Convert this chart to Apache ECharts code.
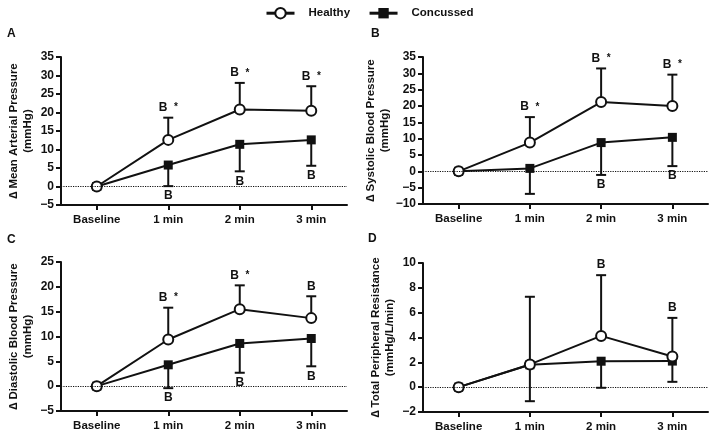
<!DOCTYPE html>
<html><head><meta charset="utf-8">
<script src="https://cdn.jsdelivr.net/npm/echarts@6/dist/echarts.min.js"></script>
<style>html,body{margin:0;padding:0;background:#fff}#c{width:709px;height:436px}</style>
</head><body><div id="c"></div>
<script>
const categories = ['Baseline', '1 min', '2 min', '3 min'];

// Panel A: Mean Arterial Pressure
const healthyMAP = [0, 12.6, 20.8, 20.5];
const healthyMAPErr = [null, 18.6, 28.0, 27.1];
const concMAP = [0, 5.8, 11.4, 12.6];
const concMAPErr = [null, 0.1, 4.1, 5.6];
const healthyMAPAnn = ['', 'B *', 'B *', 'B *'];
const concMAPAnn = ['', 'B', 'B', 'B'];

// Panel B: Systolic Blood Pressure
const healthySBP = [0, 8.8, 21.2, 20.0];
const healthySBPErr = [null, 16.6, 31.5, 29.6];
const concSBP = [0, 0.9, 8.8, 10.4];
const concSBPErr = [null, -6.9, -1.1, 1.6];
const healthySBPAnn = ['', 'B *', 'B *', 'B *'];
const concSBPAnn = ['', '', 'B', 'B'];

// Panel C: Diastolic Blood Pressure
const healthyDBP = [0, 9.4, 15.5, 13.7];
const healthyDBPErr = [null, 15.8, 20.3, 18.1];
const concDBP = [0, 4.3, 8.6, 9.6];
const concDBPErr = [null, -0.4, 2.7, 4.0];
const healthyDBPAnn = ['', 'B *', 'B *', 'B'];
const concDBPAnn = ['', 'B', 'B', 'B'];

// Panel D: Total Peripheral Resistance
const healthyTPR = [0, 1.83, 4.13, 2.47];
const healthyTPRErr = [null, 7.28, 9.02, 5.58];
const concTPR = [0, 1.8, 2.09, 2.1];
const concTPRErr = [null, -1.13, -0.05, 0.43];
const healthyTPRAnn = ['', '', 'B', 'B'];
const concTPRAnn = ['', '', '', ''];

const panels = [
  {letter:'A', grid:{left:61, top:57, width:286, height:148}, min:-5, max:35, interval:5,
   name:'\u2206 Mean Arterial Pressure\n(mmHg)', h:healthyMAP, hE:healthyMAPErr, c:concMAP, cE:concMAPErr, hA:healthyMAPAnn, cA:concMAPAnn, lx:7, ly:28},
  {letter:'B', grid:{left:423, top:57, width:285, height:147}, min:-10, max:35, interval:5,
   name:'\u2206 Systolic Blood Pressure\n(mmHg)', h:healthySBP, hE:healthySBPErr, c:concSBP, cE:concSBPErr, hA:healthySBPAnn, cA:concSBPAnn, lx:371, ly:28},
  {letter:'C', grid:{left:61, top:262, width:286, height:149}, min:-5, max:25, interval:5,
   name:'\u2206 Diastolic Blood Pressure\n(mmHg)', h:healthyDBP, hE:healthyDBPErr, c:concDBP, cE:concDBPErr, hA:healthyDBPAnn, cA:concDBPAnn, lx:7, ly:234},
  {letter:'D', grid:{left:423, top:263, width:285, height:149}, min:-2, max:10, interval:2,
   name:'\u2206 Total Peripheral Resistance\n(mmHg/L/min)', h:healthyTPR, hE:healthyTPRErr, c:concTPR, cE:concTPRErr, hA:healthyTPRAnn, cA:concTPRAnn, lx:368, ly:233}
];

const FONT = 'Liberation Sans, Arial, sans-serif';
const INK = '#111';

const grids = [], xAxes = [], yAxes = [], series = [], graphics = [];

function errRender(params, api) {
  const p0 = api.coord([api.value(0), api.value(1)]);
  const p1 = api.coord([api.value(0), api.value(2)]);
  const hw = 5;
  return {type:'group', children:[
    {type:'line', shape:{x1:p0[0], y1:p0[1], x2:p1[0], y2:p1[1]}, style:{stroke:INK, lineWidth:2}},
    {type:'line', shape:{x1:p1[0]-hw, y1:p1[1], x2:p1[0]+hw, y2:p1[1]}, style:{stroke:INK, lineWidth:2}}
  ]};
}

function annText(t) {
  return t.replace(' *', '  {s|*}').replace(/^B/, '{b|B}');
}

panels.forEach((p, i) => {
  grids.push(Object.assign({containLabel:false}, p.grid));
  xAxes.push({type:'category', gridIndex:i, data:categories, boundaryGap:true,
    axisLine:{show:true, onZero:false, lineStyle:{color:INK, width:2}},
    axisTick:{show:true, alignWithLabel:true, length:5, lineStyle:{color:INK, width:2}},
    axisLabel:{color:INK, fontFamily:FONT, fontWeight:'bold', fontSize:11.5, margin:9}});
  yAxes.push({type:'value', gridIndex:i, min:p.min, max:p.max, interval:p.interval,
    name:p.name, nameLocation:'middle', nameRotate:90, nameGap:26,
    nameTextStyle:{color:INK, fontFamily:FONT, fontWeight:'bold', fontSize:11.5, lineHeight:14},
    axisLine:{show:true, lineStyle:{color:INK, width:2}},
    axisTick:{show:true, length:5, lineStyle:{color:INK, width:2}},
    splitLine:{show:false},
    axisLabel:{color:INK, fontFamily:FONT, fontWeight:'bold', fontSize:12, margin:7,
      formatter: v => String(v).replace('-', '\u2212')}});

  const hErrData = [], cErrData = [], hAnnData = [], cAnnData = [];
  for (let k = 0; k < categories.length; k++) {
    if (p.hE[k] !== null) hErrData.push([k, p.h[k], p.hE[k]]);
    if (p.cE[k] !== null) cErrData.push([k, p.c[k], p.cE[k]]);
    if (p.hA[k]) hAnnData.push({value:[k, p.hE[k]], label:{formatter:annText(p.hA[k])}});
    if (p.cA[k]) cAnnData.push({value:[k, p.cE[k]], label:{formatter:annText(p.cA[k])}});
  }
  series.push({type:'custom', name:'errH'+i, xAxisIndex:i, yAxisIndex:i, renderItem:errRender,
    encode:{x:0, y:[1,2]}, data:hErrData, z:1, silent:true});
  series.push({type:'custom', name:'errC'+i, xAxisIndex:i, yAxisIndex:i, renderItem:errRender,
    encode:{x:0, y:[1,2]}, data:cErrData, z:1, silent:true});
  series.push({type:'line', name:'Concussed', xAxisIndex:i, yAxisIndex:i, data:p.c, z:3,
    symbol:'rect', symbolSize:9, showAllSymbol:true,
    lineStyle:{color:INK, width:2}, itemStyle:{color:INK},
    markLine:{silent:true, symbol:'none', label:{show:false},
      lineStyle:{color:INK, type:'dotted', width:1.2}, data:[{yAxis:0}]}});
  series.push({type:'line', name:'Healthy', xAxisIndex:i, yAxisIndex:i, data:p.h, z:4,
    symbol:'circle', symbolSize:10, showAllSymbol:true,
    lineStyle:{color:INK, width:2}, itemStyle:{color:'#fff', borderColor:INK, borderWidth:2}});
  const annLabel = {show:true, color:INK, fontFamily:FONT, fontWeight:'bold', fontSize:12, distance:4,
    rich:{b:{color:INK, fontFamily:FONT, fontWeight:'bold', fontSize:12},
          s:{color:INK, fontFamily:FONT, fontWeight:'bold', fontSize:10, verticalAlign:'middle'}}};
  series.push({type:'scatter', name:'annH'+i, xAxisIndex:i, yAxisIndex:i, data:hAnnData,
    symbolSize:0, itemStyle:{color:INK, opacity:1}, silent:true, z:5,
    label:Object.assign({position:'top'}, annLabel)});
  series.push({type:'scatter', name:'annC'+i, xAxisIndex:i, yAxisIndex:i, data:cAnnData,
    symbolSize:0, itemStyle:{color:INK, opacity:1}, silent:true, z:5,
    label:Object.assign({position:'bottom'}, annLabel)});

  graphics.push({type:'text', left:p.lx, top:p.ly,
    style:{text:p.letter, fill:INK, font:'bold 12px ' + FONT}});
});

const chart = echarts.init(document.getElementById('c'), null, {renderer:'canvas'});
chart.setOption({
  animation:false,
  backgroundColor:'#fff',
  legend:{data:['Healthy','Concussed'], left:260, top:2, itemWidth:28, itemHeight:13, itemGap:18,
    lineStyle:{width:3},
    textStyle:{color:INK, fontFamily:FONT, fontWeight:'bold', fontSize:11.5, padding:[0,0,0,9]}},
  grid:grids, xAxis:xAxes, yAxis:yAxes, series:series, graphic:graphics
});
</script>
</body></html>
